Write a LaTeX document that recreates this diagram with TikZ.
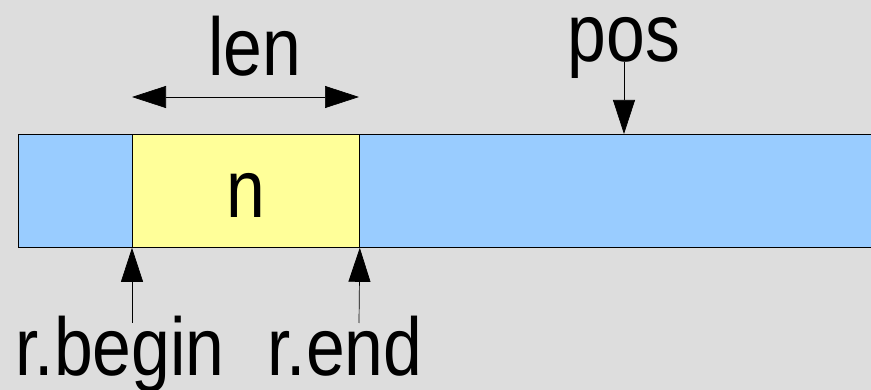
\documentclass[tikz,border=0pt]{standalone}
\usepackage{fontspec}
\setmainfont{Liberation Sans}[FakeStretch=0.85]
\usetikzlibrary{arrows.meta,positioning}
\definecolor{bggray}{RGB}{221,221,221}
\definecolor{bufblue}{RGB}{153,204,255}
\definecolor{rngyellow}{RGB}{255,255,153}

\begin{document}
\begin{tikzpicture}[x=1pt, y=-1pt,
    lbl/.style={inner sep=0pt, anchor=base, font=\fontsize{82}{90}\selectfont},
    seg/.style={draw=black, line width=0.8pt, inner sep=0pt, anchor=north west, minimum height=113pt},
    ptr/.style={-{Triangle[length=34pt, width=22pt]}, line width=0.7pt}]
    % Background
    \fill[bggray] (0,0) rectangle (871,390);
    \useasboundingbox (0,0) rectangle (871,390);

    % Buffer and the range inside it
    \node[seg, fill=bufblue, minimum width=880pt] (buf) at (18,134) {};
    \node[seg, fill=rngyellow, minimum width=227pt] (rng) at (132,134) {};
    \node[lbl] (n) at (246,218) {n};

    % Length of the range
    \node[lbl] (len) at (255,76) {len};
    \coordinate (lenL) at (132,97);
    \coordinate (lenR) at (359,97);
    \draw[{Triangle[length=34pt, width=22pt]}-{Triangle[length=34pt, width=22pt]}, line width=0.7pt] (lenL) -- (lenR);

    % Position marker
    \node[lbl] (pos) at (624,62) {pos};
    \draw[ptr] (pos.base) -- (pos.base |- buf.north);

    % Range ends
    \node[lbl] (rbegin) at (120,376) {r.begin};
    \node[lbl] (rend) at (345,376) {r.end};
    \coordinate (beginTail) at (132,323);
    \coordinate (endTail) at (359,323);
    \draw[ptr] (beginTail) -- (rng.south west);
    \draw[ptr] (endTail) -- (rng.south east);
\end{tikzpicture}
\end{document}
